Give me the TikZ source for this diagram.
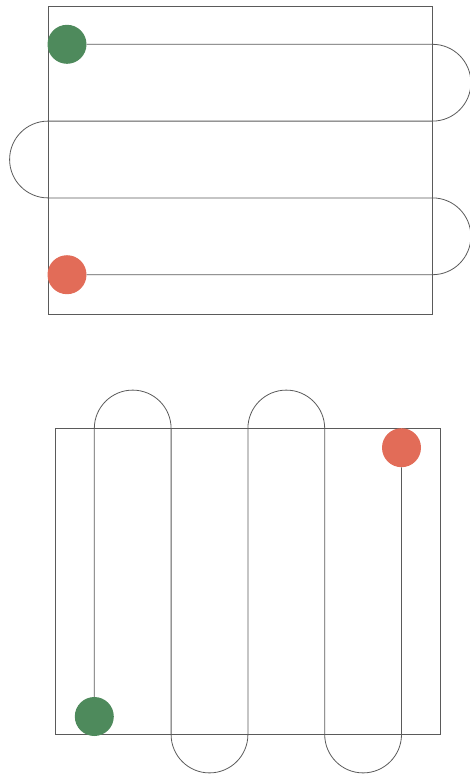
\documentclass[tikz,border=0pt]{standalone}
\definecolor{dotgreen}{RGB}{78,138,92}
\definecolor{dotred}{RGB}{226,108,88}
\definecolor{linegray}{RGB}{90,90,90}
\tikzset{
  frame/.style={draw=linegray, line width=0.7pt},
  route/.style={draw=linegray, line width=0.8pt},
  dot/.style={circle, minimum size=39pt, inner sep=0pt, draw=none},
}
\begin{document}
\begin{tikzpicture}[x=1pt,y=1pt]
\useasboundingbox (0,0) rectangle (470,-777);
% top panel
\draw[frame] (48,-6) rectangle (432.5,-314);
\node[dot, fill=dotgreen] (g1) at (67,-44.3) {};
\node[dot, fill=dotred] (r1) at (67,-274.7) {};
\draw[route] (g1.east) -- (432.5,-44.3) arc[start angle=90, end angle=-90, radius=38.4]
  -- (48,-121.1) arc[start angle=90, end angle=270, radius=38.4]
  -- (432.5,-197.9) arc[start angle=90, end angle=-90, radius=38.4]
  -- (r1.east);
% bottom panel
\draw[frame] (55.5,-428.5) rectangle (440.5,-734.5);
\node[dot, fill=dotgreen] (g2) at (94.3,-716.5) {};
\node[dot, fill=dotred] (r2) at (401.5,-447.7) {};
\draw[route] (g2.north) -- (94.3,-428.5) arc[start angle=180, end angle=0, radius=38.4]
  -- (171.1,-734.5) arc[start angle=180, end angle=360, radius=38.4]
  -- (247.9,-428.5) arc[start angle=180, end angle=0, radius=38.4]
  -- (324.7,-734.5) arc[start angle=180, end angle=360, radius=38.4]
  -- (r2.south);
\end{tikzpicture}
\end{document}
